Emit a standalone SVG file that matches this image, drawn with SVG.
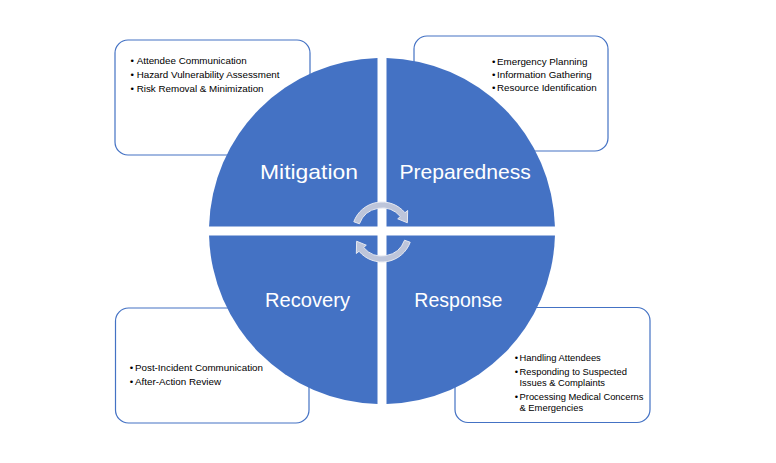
<svg xmlns="http://www.w3.org/2000/svg" width="776" height="463" viewBox="0 0 776 463">
<style>
.box{fill:#ffffff;stroke:#4472C4;stroke-width:1.2}
.quad{fill:#4472C4}
.t{font-family:"Liberation Sans",Arial,sans-serif;font-size:9.8px;fill:#000000}
.ts{font-family:"Liberation Sans",Arial,sans-serif;font-size:9.4px;fill:#000000}
.big{font-family:"Liberation Sans",Arial,sans-serif;font-size:21px;fill:#ffffff;text-anchor:middle}
.arr{fill:#BDC5DA;stroke:#E6E9F2;stroke-width:1}
</style>
<rect width="776" height="463" fill="#ffffff"/>

<g id="box-mitigation">
<rect class="box" x="115" y="40" width="195" height="115" rx="13"/>
<text class="t" x="130.5" y="64">•</text><text class="t" x="136.7" y="64">Attendee Communication</text>
<text class="t" x="130.5" y="78.2">•</text><text class="t" x="136.7" y="78.2">Hazard Vulnerability Assessment</text>
<text class="t" x="130.5" y="92.4">•</text><text class="t" x="136.7" y="92.4">Risk Removal &amp; Minimization</text>
</g>

<g id="box-preparedness">
<rect class="box" x="414" y="36" width="194" height="115" rx="13"/>
<text class="t" x="492" y="65">•</text><text class="t" x="497" y="65">Emergency Planning</text>
<text class="t" x="492" y="77.8">•</text><text class="t" x="497" y="77.8">Information Gathering</text>
<text class="t" x="492" y="90.7">•</text><text class="t" x="497" y="90.7">Resource Identification</text>
</g>

<g id="box-recovery">
<rect class="box" x="115.5" y="308" width="193.5" height="115" rx="13"/>
<text class="t" x="129.8" y="371">•</text><text class="t" x="135" y="371">Post-Incident Communication</text>
<text class="t" x="129.8" y="385">•</text><text class="t" x="135" y="385">After-Action Review</text>
</g>

<g id="box-response">
<rect class="box" x="455" y="307.5" width="195" height="115" rx="13"/>
<text class="ts" x="514.8" y="361">•</text><text class="ts" x="519.5" y="361">Handling Attendees</text>
<text class="ts" x="514.8" y="375">•</text><text class="ts" x="519.5" y="375">Responding to Suspected</text>
<text class="ts" x="519.5" y="385.5">Issues &amp; Complaints</text>
<text class="ts" x="514.8" y="400">•</text><text class="ts" x="519.5" y="400">Processing Medical Concerns</text>
<text class="ts" x="519.5" y="410.5">&amp; Emergencies</text>
</g>

<g id="mitigation">
<path class="quad" d="M377.5,226.5 L209.06,226.5 A173,173 0 0 1 377.5,58.06 Z"/>
<text class="big" x="309" y="179.3" textLength="98" lengthAdjust="spacingAndGlyphs">Mitigation</text>
</g>
<g id="preparedness">
<path class="quad" d="M386.5,226.5 L386.5,58.06 A173,173 0 0 1 554.94,226.5 Z"/>
<text class="big" x="465.2" y="179.3" textLength="131.5" lengthAdjust="spacingAndGlyphs">Preparedness</text>
</g>
<g id="response">
<path class="quad" d="M386.5,235.5 L554.94,235.5 A173,173 0 0 1 386.5,403.94 Z"/>
<text class="big" x="458.3" y="307" textLength="88" lengthAdjust="spacingAndGlyphs">Response</text>
</g>
<g id="recovery">
<path class="quad" d="M377.5,235.5 L377.5,403.94 A173,173 0 0 1 209.06,235.5 Z"/>
<text class="big" x="307.5" y="307.3" textLength="85" lengthAdjust="spacingAndGlyphs">Recovery</text>
</g>

<g id="connectors">
<path id="arrow-top" class="arr" d="M353.81,221.74 A30,30 0 0 1 404.98,212.72 L407.66,210.47 L407.37,222.77 L397.71,218.82 L400.39,216.57 A24,24 0 0 0 359.45,223.79 Z"/>
<path id="arrow-bottom" class="arr" transform="rotate(180 382 232)" d="M353.81,221.74 A30,30 0 0 1 404.98,212.72 L407.66,210.47 L407.37,222.77 L397.71,218.82 L400.39,216.57 A24,24 0 0 0 359.45,223.79 Z"/>
</g>
</svg>
